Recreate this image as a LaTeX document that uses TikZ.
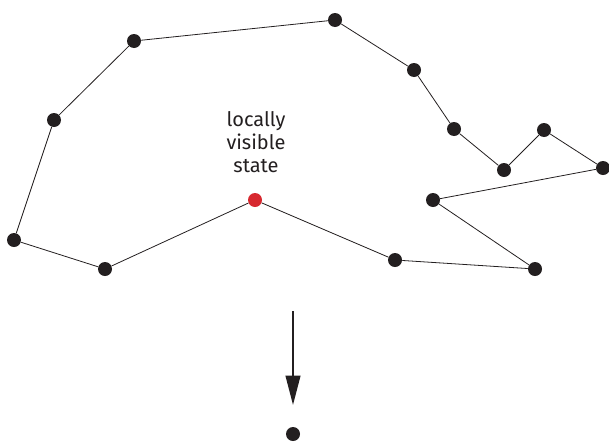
\documentclass[tikz,border=0pt]{standalone}
\usepackage{fontspec}
\setmainfont{Fira Sans}
\usetikzlibrary{arrows.meta}
\definecolor{dotblack}{HTML}{231F20}
\definecolor{dotred}{HTML}{D7282F}
\tikzset{
  state/.style={circle,fill=dotblack,inner sep=0pt,minimum size=10.5pt},
  localstate/.style={state,fill=dotred},
  edge/.style={draw=dotblack,line width=0.6pt}
}
\begin{document}
\begin{tikzpicture}[x=0.75pt,y=-0.75pt]
\useasboundingbox (0,0) rectangle (609,443);
\node[state] (s1) at (14,240) {};
\node[state] (s2) at (105,269) {};
\node[localstate] (s3) at (255,200) {};
\node[state] (s4) at (395,260) {};
\node[state] (s5) at (535,269) {};
\node[state] (s6) at (433,200) {};
\node[state] (s7) at (603,168) {};
\node[state] (s8) at (544,130) {};
\node[state] (s9) at (504,170) {};
\node[state] (s10) at (454,129) {};
\node[state] (s11) at (414,70) {};
\node[state] (s12) at (335,20) {};
\node[state] (s13) at (134,41) {};
\node[state] (s14) at (54,120) {};

\draw[edge] (s1) -- (s2) -- (s3) -- (s4) -- (s5) -- (s6) -- (s7) -- (s8) -- (s9)
  -- (s10) -- (s11) -- (s12) -- (s13) -- (s14) -- (s1);

\node[align=center,font=\fontsize{15}{17.5}\selectfont,text=dotblack] (label) at (256,142)
  {locally\\visible\\state};

\coordinate (top) at (293,311);
\coordinate (tip) at (293,405);
\node[state] (next) at (293,434) {};
\draw[line width=1.5pt,draw=dotblack,-{Triangle[length=22pt,width=11pt]}] (top) -- (tip);
\end{tikzpicture}
\end{document}
